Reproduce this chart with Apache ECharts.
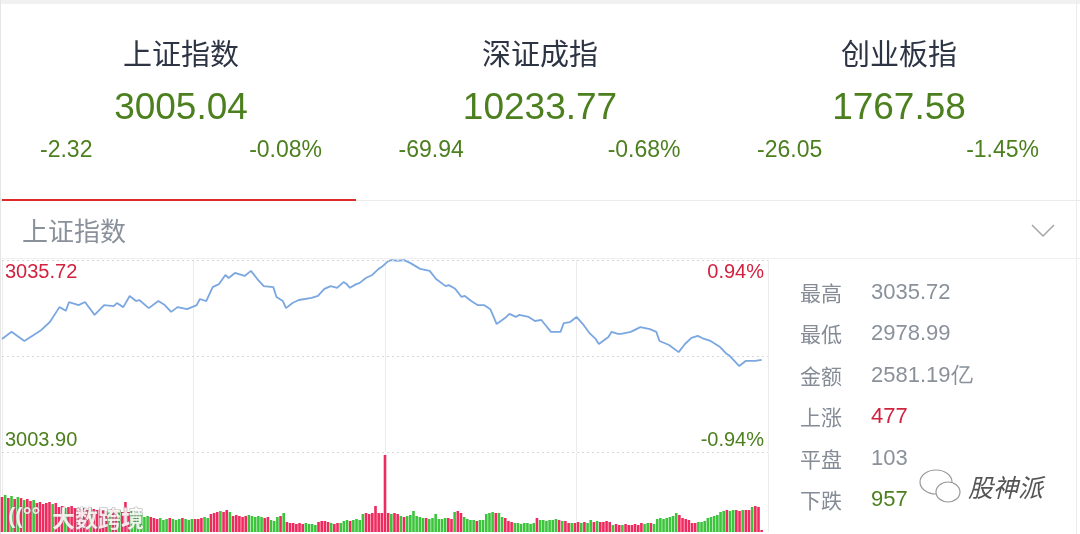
<!DOCTYPE html>
<html>
<head>
<meta charset="utf-8">
<script src="https://cdn.jsdelivr.net/npm/echarts@6/dist/echarts.min.js"></script>
<style>
  html, body { margin: 0; padding: 0; background: #fff; }
  #chart { width: 1080px; height: 534px; }
</style>
</head>
<body>
<div id="chart"></div>
<script>
// 指数头部
var indexNames = ["上证指数", "深证成指", "创业板指"];
var indexValues = ["3005.04", "10233.77", "1767.58"];
var indexChanges = ["-2.32", "-69.94", "-26.05"];
var indexPercents = ["-0.08%", "-0.68%", "-1.45%"];

// 分时数据 (分钟序号, 点位)
var preClose = 3007.36;
var axisHigh = 3035.72;
var axisLow = 2979.0;
var lineMin = [0, 3, 7, 12, 15, 18, 20, 21, 24, 26, 29, 32, 35, 36, 38, 40, 42, 43, 46, 49,
  51, 53, 55, 58, 61, 62, 64, 66, 68, 70, 71, 73, 76, 78, 80, 82, 85, 86, 88, 89,
  91, 93, 97, 99, 101, 103, 105, 107, 108, 109, 111, 112, 114, 116, 118, 119, 121, 122, 124, 126,
  128, 131, 134, 136, 139, 140, 142, 144, 145, 147, 149, 151, 153, 155, 158, 159, 161, 162, 165, 167,
  169, 170, 172, 175, 176, 178, 180, 182, 184, 186, 187, 190, 191, 193, 194, 197, 200, 203, 205, 206,
  209, 212, 214, 216, 218, 220, 222, 225, 227, 228, 231, 233, 236, 238];
var linePrice = [3012.4, 3014.5, 3011.8, 3014.8, 3017.4, 3021.8, 3020.7, 3023.3, 3022.4, 3023.3,
  3019.5, 3022.4, 3022.1, 3023.0, 3021.8, 3025.1, 3023.6, 3023.9, 3021.5, 3023.6,
  3022.4, 3020.4, 3021.8, 3021.2, 3022.4, 3024.2, 3023.6, 3027.7, 3028.6, 3031.3,
  3030.4, 3031.9, 3031.0, 3032.5, 3030.1, 3028.0, 3027.7, 3024.8, 3023.6, 3021.5,
  3023.0, 3023.9, 3024.5, 3025.1, 3027.2, 3028.0, 3027.5, 3029.2, 3028.6, 3027.5,
  3028.6, 3028.9, 3030.4, 3031.3, 3033.1, 3033.7, 3035.4, 3035.7, 3035.5, 3035.7,
  3034.8, 3033.1, 3032.5, 3030.1, 3028.0, 3028.3, 3027.2, 3024.8, 3025.1, 3023.6,
  3022.4, 3022.4, 3021.2, 3016.8, 3018.9, 3019.8, 3018.9, 3019.5, 3018.9, 3017.7,
  3018.0, 3016.8, 3014.5, 3014.5, 3017.1, 3017.4, 3018.9, 3016.8, 3014.2, 3012.4,
  3010.9, 3013.0, 3014.5, 3013.9, 3013.9, 3014.5, 3015.9, 3015.3, 3014.5, 3011.8,
  3010.6, 3008.5, 3010.9, 3012.7, 3013.3, 3012.4, 3011.8, 3010.0, 3008.0, 3007.4,
  3004.4, 3005.9, 3005.9, 3006.2];

// 成交量 (每分钟) 与涨跌颜色 r=红 g=绿
var volumes = [35, 37, 34, 36, 33, 35, 34, 32, 33, 31, 32, 29, 30, 28, 29, 30, 28, 29,
  25, 26, 24, 25, 26, 24, 24, 23, 24, 22, 24, 23, 22, 23, 22, 21, 22, 23, 21, 22, 20, 30,
  20, 21, 19, 20, 19, 15, 16, 15, 14, 13, 14, 12, 13, 14, 13, 12, 13, 14, 13, 12, 13, 13,
  13, 14, 15, 14, 18, 19, 20, 21, 20, 22, 20, 16, 17, 16, 15, 16, 17, 16, 15, 16, 15, 14, 15,
  12, 11, 15, 16, 19, 10, 9, 9, 8, 9, 8, 9, 8, 8, 7, 10, 11, 11, 10, 9, 8, 9, 9,
  11, 12, 11, 12, 13, 12, 18, 19, 18, 19, 26, 19,
  19, 77, 19, 18, 19, 18, 16, 15, 16, 17, 21, 16, 15, 14, 14, 13, 14, 18, 13, 13, 14, 14, 13,
  20, 21, 19, 15, 13, 12, 12, 11, 12, 12, 18, 19, 20, 19, 19, 15, 14, 11, 10,
  9, 9, 8, 9, 9, 8, 9, 14, 12, 12, 11, 12, 12, 13, 12, 11, 11, 9, 9,
  9, 10, 9, 10, 9, 12, 10, 11, 10, 10, 11, 10, 7, 8, 7, 7, 8, 7, 7, 8, 7, 9, 8, 9, 9, 8,
  13, 14, 13, 14, 15, 16, 19, 17, 14, 13, 12, 9, 9, 10, 10, 11, 14, 15, 16, 17,
  20, 21, 22, 21, 22, 22, 21, 22, 22, 22, 25, 26, 25, 2];
var volColor = "rgrgrgr" + "grrg" + "rrrrrgr" + "rrgrrr" + "rrrrgrrr" + "rrgrrgrr" + "rgggg" + "ggrr" +
  "rgggrgggrgggr" + "rr" + "gg" + "rr" + "rgrrg" + "rrrrrgg" + "gggrr" + "gg" + "grg" + "rrrrrrgg" +
  "gg" + "rrrr" + "grrg" + "ggrggg" + "grrr" + "r" + "r" +
  "r" + "r" + "rgrr" + "grgg" + "g" + "ggg" + "rgg" + "g" + "ggg" + "rr" + "gr" + "rg" + "gggrgg" +
  "gggrg" + "gr" + "rr" + "ggggggg" + "r" + "ggggggrgr" + "rg" +
  "rrgrg" + "g" + "rgrrrr" + "grrgrrrrr" + "rggrg" + "gggg" + "gg" + "g" + "rrrr" + "rr" + "ggg" +
  "gggg" + "ggrg" + "grrg" + "rr" + "gr" + "r" + "r";

// 右侧统计
var statLabels = ["最高", "最低", "金额", "上涨", "平盘", "下跌"];
var statValues = ["3035.72", "2978.99", "2581.19亿", "477", "103", "957"];

var RED = "#d3223f";
var GREEN = "#4c7f1e";
var BAR_RED = "#ee2a5e";
var BAR_GREEN = "#3cc43c";
var CN = '"Noto Sans CJK SC"';
var NUM = '"Liberation Sans", Arial';

var chart = echarts.init(document.getElementById("chart"));

var graphics = [];
// 外框
graphics.push({ type: "rect", shape: { x: 0, y: 0, width: 1080, height: 4 }, style: { fill: "#f1f1f1" } });
graphics.push({ type: "line", shape: { x1: 0.5, y1: 0, x2: 0.5, y2: 534 }, style: { stroke: "#e6e6e6", lineWidth: 1 } });
graphics.push({ type: "line", shape: { x1: 1076.5, y1: 0, x2: 1076.5, y2: 534 }, style: { stroke: "#ececec", lineWidth: 1 } });

// 头部三个指数
for (var i = 0; i < 3; i++) {
  var cx = 181 + i * 359;
  var left = 40 + i * 358.5;
  graphics.push({ type: "text", style: { text: indexNames[i], x: cx, y: 54, fill: "#2d3444", font: "29px " + CN, align: "center", verticalAlign: "middle" } });
  graphics.push({ type: "text", style: { text: indexValues[i], x: cx, y: 109, fill: GREEN, font: "37px " + NUM, align: "center", verticalAlign: "middle" } });
  graphics.push({ type: "text", style: { text: indexChanges[i], x: left, y: 151, fill: GREEN, font: "23px " + NUM, align: "left", verticalAlign: "middle" } });
  graphics.push({ type: "text", style: { text: indexPercents[i], x: left + 282, y: 151, fill: GREEN, font: "23px " + NUM, align: "right", verticalAlign: "middle" } });
}
graphics.push({ type: "line", shape: { x1: 0, y1: 200.5, x2: 1080, y2: 200.5 }, style: { stroke: "#ebebeb", lineWidth: 1 } });
graphics.push({ type: "line", shape: { x1: 2, y1: 200, x2: 356, y2: 200 }, style: { stroke: "#e02a2a", lineWidth: 2 } });

// 标题行
graphics.push({ type: "text", style: { text: "上证指数", x: 22, y: 231, fill: "#8a919b", font: "26px " + CN, align: "left", verticalAlign: "middle" } });
graphics.push({ type: "polyline", shape: { points: [[1032, 225], [1043, 236], [1054, 225]] }, style: { stroke: "#a5a5a5", lineWidth: 1.5, fill: null } });
graphics.push({ type: "line", shape: { x1: 0, y1: 258.5, x2: 1080, y2: 258.5 }, style: { stroke: "#efefef", lineWidth: 1 } });

// 坐标标签
graphics.push({ type: "text", z: 100, style: { text: "3035.72", x: 5, y: 272, fill: RED, font: "20px " + NUM, align: "left", verticalAlign: "middle" } });
graphics.push({ type: "text", z: 100, style: { text: "0.94%", x: 764, y: 272, fill: RED, font: "20px " + NUM, align: "right", verticalAlign: "middle" } });
graphics.push({ type: "text", z: 100, style: { text: "3003.90", x: 5, y: 440, fill: GREEN, font: "20px " + NUM, align: "left", verticalAlign: "middle" } });
graphics.push({ type: "text", z: 100, style: { text: "-0.94%", x: 764, y: 440, fill: GREEN, font: "20px " + NUM, align: "right", verticalAlign: "middle" } });

// 右侧统计
for (var k = 0; k < statLabels.length; k++) {
  var ry = 293 + k * 41.4;
  var vc = "#8a919b";
  if (k === 3) vc = RED;
  if (k === 5) vc = GREEN;
  graphics.push({ type: "text", style: { text: statLabels[k], x: 800, y: ry, fill: "#858c96", font: "21px " + CN, align: "left", verticalAlign: "middle" } });
  graphics.push({ type: "text", style: { text: statValues[k], x: 871, y: ry, fill: vc, font: "22px " + NUM, align: "left", verticalAlign: "middle" } });
}

// 水印
graphics.push({ type: "ellipse", z: 100, shape: { cx: 936, cy: 482, rx: 16, ry: 12 }, style: { fill: "#fff", stroke: "#9a9a9a", lineWidth: 1.2 } });
graphics.push({ type: "ellipse", z: 101, shape: { cx: 948, cy: 492, rx: 12, ry: 10 }, style: { fill: "#fff", stroke: "#9a9a9a", lineWidth: 1.2 } });
graphics.push({ type: "text", z: 101, style: { text: "股神派", x: 968, y: 487, fill: "#555", font: "italic 25px " + CN, align: "left", verticalAlign: "middle" } });
graphics.push({ type: "text", z: 100, style: { text: "((°°", x: 8, y: 517, fill: "rgba(255,255,255,0.85)", stroke: "rgba(110,110,110,0.55)", lineWidth: 1, font: "bold 22px " + NUM, align: "left", verticalAlign: "middle" } });
graphics.push({ type: "text", z: 100, style: { text: "大数跨境", x: 52, y: 518, fill: "rgba(255,255,255,0.85)", stroke: "rgba(110,110,110,0.55)", lineWidth: 1, font: "bold 23px " + CN, align: "left", verticalAlign: "middle" } });

var lineData = lineMin.map(function (m, idx) { return [m, linePrice[idx]]; });
var volData = volumes.map(function (v, idx) {
  return { value: [idx, v], itemStyle: { color: volColor.charAt(idx) === "r" ? BAR_RED : BAR_GREEN } };
});

var axisHidden = {
  axisLine: { show: false }, axisTick: { show: false }, axisLabel: { show: false },
  splitLine: { show: true, lineStyle: { color: "#ececec", width: 1 } }
};

var option = {
  animation: false,
  backgroundColor: "#fff",
  grid: [
    { left: 2, top: 260, width: 766, height: 192 },
    { left: 2, top: 453, width: 766, height: 79 }
  ],
  xAxis: [
    Object.assign({ gridIndex: 0, type: "value", min: 0, max: 240, interval: 60 }, axisHidden),
    Object.assign({ gridIndex: 1, type: "value", min: 0, max: 242, interval: 60.5 }, axisHidden)
  ],
  yAxis: [
    { gridIndex: 0, type: "value", min: axisLow, max: axisHigh, show: false, splitLine: { show: false } },
    { gridIndex: 1, type: "value", min: 0, max: 79, show: false, splitLine: { show: false } }
  ],
  series: [
    {
      type: "line", xAxisIndex: 0, yAxisIndex: 0, data: lineData,
      symbol: "none", smooth: false,
      lineStyle: { color: "#7ba7e0", width: 1.8 },
      markLine: {
        silent: true, symbol: "none", label: { show: false },
        lineStyle: { color: "#d8d8d8", type: [2, 3], width: 1 },
        data: [{ yAxis: axisHigh }, { yAxis: preClose }, { yAxis: axisLow }]
      }
    },
    {
      type: "bar", xAxisIndex: 1, yAxisIndex: 1, data: volData,
      barWidth: 2.6
    }
  ],
  graphic: graphics
};

chart.setOption(option);
</script>
</body>
</html>
